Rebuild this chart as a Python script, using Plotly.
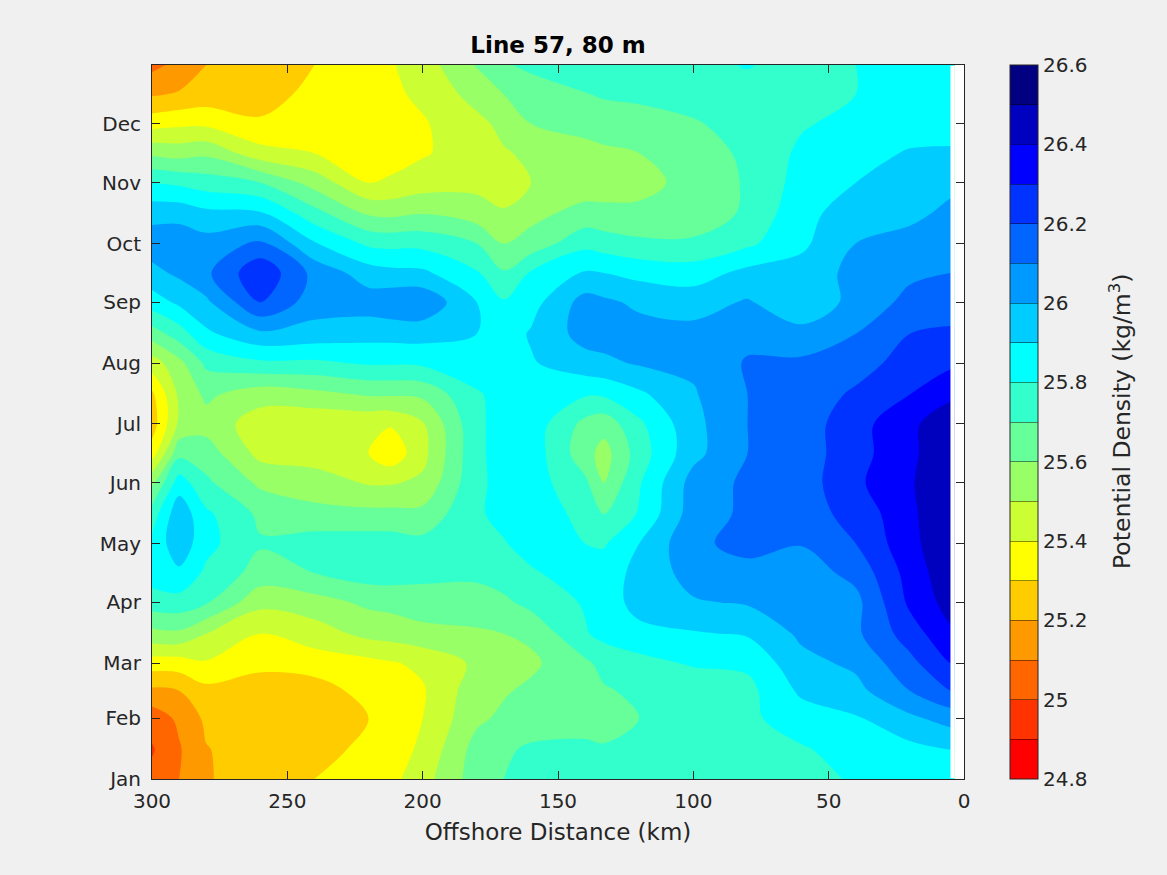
import plotly.graph_objects as go

distance_km = [300, 290, 280, 260, 240, 220, 212, 200, 180, 170, 160, 140, 133, 120, 100, 80, 60, 40, 20, 5]
day_of_year = [1, 16, 32, 46, 60, 75, 91, 106, 121, 136, 152, 167, 182, 197, 213, 228, 244, 259, 274, 289, 305, 320, 335, 350, 365]

jan_a = [25.03, 25.10, 25.195, 25.23, 25.30, 25.33, 25.37, 25.46, 25.65, 25.70, 25.73, 25.74, 25.74, 25.74, 25.76, 25.80, 25.77, 25.81, 25.85, 25.87]
jan_b = [24.99, 25.09, 25.195, 25.25, 25.27, 25.32, 25.35, 25.42, 25.64, 25.68, 25.72, 25.72, 25.71, 25.72, 25.73, 25.75, 25.79, 25.84, 25.87, 25.90]
feb_a = [25.04, 25.12, 25.22, 25.25, 25.25, 25.30, 25.32, 25.40, 25.58, 25.62, 25.63, 25.66, 25.66, 25.70, 25.72, 25.78, 25.85, 25.89, 25.98, 26.04]
feb_b = [25.18, 25.20, 25.27, 25.26, 25.25, 25.34, 25.37, 25.39, 25.56, 25.59, 25.62, 25.68, 25.69, 25.72, 25.74, 25.77, 25.92, 25.97, 26.10, 26.20]
mar_a = [25.35, 25.35, 25.39, 25.32, 25.35, 25.37, 25.39, 25.42, 25.52, 25.54, 25.58, 25.68, 25.73, 25.77, 25.81, 25.82, 25.97, 26.02, 26.17, 26.30]
mar_b = [25.57, 25.58, 25.50, 25.40, 25.45, 25.53, 25.54, 25.57, 25.58, 25.60, 25.62, 25.79, 25.83, 25.86, 25.89, 25.91, 26.02, 26.08, 26.25, 26.38]
apr_a = [25.75, 25.76, 25.71, 25.53, 25.56, 25.62, 25.63, 25.65, 25.68, 25.68, 25.73, 25.81, 25.83, 25.95, 25.99, 26.01, 26.05, 26.07, 26.32, 26.44]
apr_b = [25.85, 25.88, 25.78, 25.66, 25.70, 25.75, 25.75, 25.73, 25.71, 25.75, 25.79, 25.84, 25.85, 25.93, 26.04, 26.07, 26.05, 26.13, 26.34, 26.47]
may_a = [25.82, 25.97, 25.83, 25.71, 25.75, 25.75, 25.75, 25.73, 25.75, 25.795, 25.83, 25.80, 25.79, 25.90, 26.08, 26.13, 26.105, 26.20, 26.37, 26.48]
may_b = [25.75, 25.97, 25.82, 25.68, 25.63, 25.63, 25.63, 25.63, 25.79, 25.82, 25.84, 25.78, 25.70, 25.81, 26.05, 26.12, 26.16, 26.23, 26.38, 26.48]
jun_a = [25.58, 25.85, 25.72, 25.58, 25.55, 25.49, 25.49, 25.52, 25.78, 25.83, 25.85, 25.72, 25.60, 25.79, 26.04, 26.12, 26.15, 26.28, 26.39, 26.48]
jun_b = [25.35, 25.67, 25.65, 25.47, 25.45, 25.40, 25.33, 25.47, 25.78, 25.84, 25.86, 25.64, 25.56, 25.75, 25.97, 26.10, 26.15, 26.26, 26.38, 26.47]
jul_a = [25.25, 25.52, 25.56, 25.45, 25.42, 25.42, 25.41, 25.49, 25.78, 25.84, 25.86, 25.67, 25.64, 25.78, 25.97, 26.10, 26.15, 26.26, 26.38, 26.46]
jul_b = [25.28, 25.52, 25.62, 25.54, 25.57, 25.61, 25.61, 25.62, 25.79, 25.83, 25.85, 25.81, 25.815, 25.88, 25.99, 26.10, 26.13, 26.22, 26.30, 26.38]
aug_a = [25.45, 25.57, 25.72, 25.78, 25.78, 25.81, 25.81, 25.82, 25.85, 25.84, 25.89, 25.96, 25.98, 26.01, 26.02, 26.11, 26.12, 26.15, 26.25, 26.28]
aug_b = [25.65, 25.75, 25.88, 25.98, 25.96, 25.94, 25.94, 25.94, 25.90, 25.85, 25.91, 26.04, 26.04, 26.04, 26.03, 26.07, 26.03, 26.10, 26.20, 26.21]
sep_a = [25.85, 25.92, 25.98, 26.20, 26.05, 26.05, 26.07, 26.08, 25.90, 25.81, 25.86, 26.04, 26.02, 25.98, 25.96, 26.01, 25.93, 26.03, 26.13, 26.17]
sep_b = [25.97, 26.02, 26.08, 26.28, 26.07, 25.95, 25.93, 25.92, 25.81, 25.71, 25.81, 25.91, 25.90, 25.87, 25.85, 25.93, 25.94, 26.03, 26.08, 26.10]
oct_a = [26.05, 26.06, 26.04, 26.12, 25.91, 25.78, 25.77, 25.77, 25.70, 25.60, 25.64, 25.77, 25.75, 25.72, 25.72, 25.78, 25.88, 26.00, 26.03, 26.08]
oct_b = [25.97, 25.97, 25.93, 25.92, 25.74, 25.59, 25.58, 25.60, 25.55, 25.51, 25.57, 25.64, 25.63, 25.63, 25.63, 25.72, 25.87, 25.95, 25.98, 26.02]
nov_a = [25.80, 25.78, 25.75, 25.70, 25.56, 25.40, 25.41, 25.45, 25.47, 25.46, 25.50, 25.54, 25.55, 25.56, 25.64, 25.71, 25.84, 25.90, 25.94, 25.98]
nov_b = [25.58, 25.56, 25.58, 25.44, 25.40, 25.36, 25.37, 25.39, 25.45, 25.49, 25.52, 25.57, 25.58, 25.60, 25.65, 25.72, 25.82, 25.86, 25.91, 25.91]
dec_a = [25.36, 25.38, 25.38, 25.31, 25.33, 25.36, 25.37, 25.39, 25.47, 25.53, 25.60, 25.63, 25.65, 25.66, 25.69, 25.74, 25.79, 25.83, 25.85, 25.87]
dec_b = [25.19, 25.21, 25.24, 25.27, 25.32, 25.36, 25.38, 25.42, 25.54, 25.60, 25.65, 25.695, 25.71, 25.72, 25.74, 25.77, 25.77, 25.80, 25.84, 25.86]
dec_c = [25.07, 25.13, 25.20, 25.25, 25.30, 25.365, 25.39, 25.45, 25.61, 25.69, 25.72, 25.76, 25.765, 25.77, 25.78, 25.805, 25.77, 25.80, 25.84, 25.86]

density = [jan_a, jan_b, feb_a, feb_b, mar_a, mar_b, apr_a, apr_b, may_a, may_b, jun_a, jun_b,
           jul_a, jul_b, aug_a, aug_b, sep_a, sep_b, oct_a, oct_b, nov_a, nov_b, dec_a, dec_b, dec_c]

month_ticks = [1, 32, 60, 91, 121, 152, 182, 213, 244, 274, 305, 335]
month_labels = ["Jan", "Feb", "Mar", "Apr", "May", "Jun", "Jul", "Aug", "Sep", "Oct", "Nov", "Dec"]
distance_ticks = [300, 250, 200, 150, 100, 50, 0]
cbar_ticks = [24.8, 24.9, 25, 25.1, 25.2, 25.3, 25.4, 25.5, 25.6, 25.7, 25.8, 25.9, 26, 26.1, 26.2, 26.3, 26.4, 26.5, 26.6]
cbar_labels = ["24.8", "", "25", "", "25.2", "", "25.4", "", "25.6", "", "25.8", "", "26", "", "26.2", "", "26.4", "", "26.6"]

band_colors = ["#ff0000", "#ff3300", "#ff6600", "#ff9900", "#ffcc00", "#ffff00",
               "#ccff33", "#99ff66", "#66ff99", "#33ffcc", "#00ffff", "#00ccff",
               "#0099ff", "#0066ff", "#0033ff", "#0000ff", "#0000bf", "#000080"]

scale = []
for i, c in enumerate(band_colors):
    scale.append([i / len(band_colors), c])
    scale.append([(i + 1) / len(band_colors), c])

FONT = "DejaVu Sans"
INK = "#262626"

# The nearshore column is repeated just past the last station; a white mask trims
# the fill back to 5 km so that the edge of the fill stays clean.
DATA_EDGE = 5
PAD_EDGE = 3.5
x_values = [PAD_EDGE] + distance_km[::-1]
z_values = [[row[-1]] + row[::-1] for row in density]

fig = go.Figure(go.Contour(
    x=x_values, y=day_of_year, z=z_values,
    zmin=24.8, zmax=26.6, colorscale=scale,
    contours=dict(start=24.8, end=26.6, size=0.1, coloring="fill", showlines=False),
    line=dict(width=0, smoothing=1.0),
    hoverinfo="skip",
    colorbar=dict(
        x=(1010 - 152) / 812, xanchor="left", xpad=0, ypad=0, y=0.5, yanchor="middle",
        len=1, lenmode="fraction", thickness=28, thicknessmode="pixels",
        tickmode="array", tickvals=cbar_ticks, ticktext=cbar_labels,
        ticks="inside", ticklen=28, tickcolor="rgba(0,0,0,0.45)", tickwidth=1,
        tickfont=dict(family=FONT, size=20, color=INK),
        outlinewidth=1, outlinecolor=INK,
    ),
))

axis_common = dict(
    showgrid=False, zeroline=False, showline=True, linecolor=INK, linewidth=1, mirror="allticks",
    ticks="inside", ticklen=8, tickcolor=INK, tickwidth=1,
    tickfont=dict(family=FONT, size=20, color=INK),
)
fig.update_layout(
    width=1167, height=875, autosize=False,
    margin=dict(l=152, r=203, t=65, b=96, pad=0),
    paper_bgcolor="#f0f0f0", plot_bgcolor="#ffffff",
    title=dict(text="<b>Line 57, 80 m</b>", x=558 / 1167, xanchor="center", y=1 - 45 / 875, yanchor="middle",
               font=dict(family=FONT, size=23, color="#000000")),
    xaxis=dict(range=[300, 0], tickmode="array", tickvals=distance_ticks, ticklabelstandoff=4,
               title=dict(text="Offshore Distance (km)", font=dict(family=FONT, size=23, color=INK), standoff=11),
               **axis_common),
    yaxis=dict(range=[1, 365], tickmode="array", tickvals=month_ticks, ticktext=month_labels, ticklabelstandoff=6,
               **axis_common),
    shapes=[dict(type="rect", xref="x", yref="paper", x0=DATA_EDGE, x1=PAD_EDGE - 0.1, y0=0.001, y1=0.999,
                 fillcolor="#ffffff", line=dict(width=0), layer="above")],
    annotations=[dict(
        text="Potential Density (kg/m<sup>3</sup>)", textangle=-90, showarrow=False,
        xref="paper", yref="paper", x=(1120 - 152) / 812, y=1 - (422 - 65) / 714,
        xanchor="center", yanchor="middle", font=dict(family=FONT, size=23.5, color=INK),
    )],
)

fig.write_html(
    "out.html",
    config=dict(displayModeBar=False),
    post_script="document.body.style.margin='0';document.body.style.background='#f0f0f0';"
                "document.documentElement.style.overflow='hidden';",
)
